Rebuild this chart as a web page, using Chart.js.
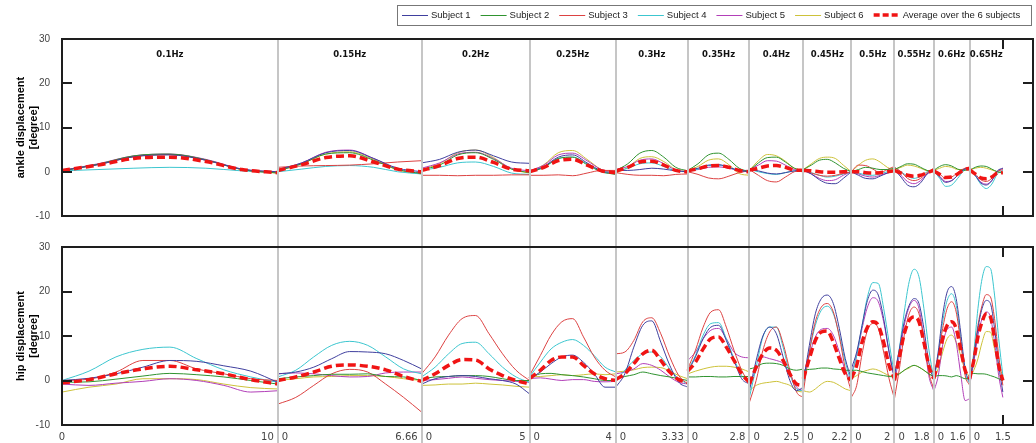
<!DOCTYPE html>
<html>
<head>
<meta charset="utf-8">
<script src="https://cdn.jsdelivr.net/npm/chart.js@4.4.1/dist/chart.umd.min.js"></script>
<style>
  html, body { margin: 0; padding: 0; background: #fff; }
  #wrap { position: relative; width: 1036px; height: 443px; overflow: hidden; }
  #ankle { position: absolute; left: 0; top: 0; }
  #hip { position: absolute; left: 0; top: 222px; }
</style>
</head>
<body>
<div id="wrap">
  <canvas id="ankle" width="1036" height="226"></canvas>
  <canvas id="hip" width="1036" height="221"></canvas>
</div>
<script>
// stimulation frequencies, one block of one period each
const freqs = [0.1, 0.15, 0.2, 0.25, 0.3, 0.35, 0.4, 0.45, 0.5, 0.55, 0.6, 0.65];
const freqNames = ["0.1Hz", "0.15Hz", "0.2Hz", "0.25Hz", "0.3Hz", "0.35Hz", "0.4Hz", "0.45Hz", "0.5Hz", "0.55Hz", "0.6Hz", "0.65Hz"];
const periodLabels = ["10", "6.66", "5", "4", "3.33", "2.8", "2.5", "2.2", "2", "1.8", "1.6", "1.5"];
const seriesNames = ["Subject 1", "Subject 2", "Subject 3", "Subject 4", "Subject 5", "Subject 6", "Average over the 6 subjects"];
const seriesColors = ["#3f3f9e", "#2f932f", "#dc4242", "#3cc6cf", "#b23fb8", "#cdc23a", "#f01414"];

// ankle displacement [deg], samples evenly spread over each period
const ankleS1 = [
  [0.3, 1.6, 3.4, 3.8, 2.6, 0.6, 0], [0.5, 2.0, 4.3, 4.8, 3.0, 0.8, 0.0], [2.0, 2.8, 4.4, 4.9, 3.6, 2.2, 1.9],
  [0, 1.2, 3.3, 3.8, 2.0, 0.2, -0.3], [0.3, 0.3, 0.5, 0.8, 0.6, 0.2, 0], [0.3, 0.8, 1.5, 1.6, 1.0, 0.3, 0],
  [0.5, 0.2, -0.3, -0.5, -0.2, 0.2, 0.3], [0.3, -0.5, -1.8, -2.6, -2.7, -1.5, 0], [0, -0.8, -1.5, -1.6, -1.0, -0.3, 0.2],
  [0.5, -1.2, -3.0, -3.4, -2.5, -0.5, 0.5], [0.3, -1.2, -2.4, -2.0, -0.8, 0.5, 0.8], [0.8, -0.8, -2.5, -3.0, -2.0, 0.2, 0.8]
];
const ankleS2 = [
  [0.2, 1.7, 3.6, 4.0, 2.7, 0.5, -0.3], [0.2, 1.8, 4.0, 4.3, 2.6, 0.5, -0.4], [0.5, 1.5, 3.8, 4.3, 2.8, 0.6, -0.2],
  [-0.2, 1.0, 3.0, 3.3, 1.6, 0, -0.6], [0.3, 1.8, 4.2, 4.8, 3.3, 1.0, 0.2], [0.3, 1.8, 3.8, 4.2, 2.8, 0.8, 0],
  [0.3, 2.0, 3.2, 3.3, 2.2, 0.8, 0.3], [0.5, 1.5, 2.6, 2.8, 2.0, 0.8, 0], [0, 0.5, 1.0, 0.8, 0.5, 0.5, 0.8],
  [0.5, 1.2, 1.8, 1.7, 1.0, 0.3, 0], [0.3, 1.2, 1.6, 1.3, 0.6, 0.3, 0.5], [0.3, 1.0, 1.3, 1.2, 0.6, 0.0, -0.3]
];
const ankleS3 = [
  [0.3, 1.6, 3.4, 3.9, 2.6, 0.5, -0.2], [1.0, 1.3, 1.4, 1.5, 1.8, 2.2, 2.5], [-0.8, -0.8, -0.9, -0.8, -0.8, -0.7, -0.7],
  [-0.8, -0.8, -0.7, -0.9, -0.3, 0.3, 0.3], [-0.2, -0.6, -0.8, -0.8, -0.9, -0.6, -0.5], [0.0, -0.6, -1.4, -1.6, -1.0, -0.2, 0.2],
  [0.5, -0.8, -2.0, -2.3, -1.2, 0.0, 0.3], [0.3, -0.3, -0.8, -1.0, -0.8, -0.4, 0], [0, 1.5, 1.4, 0.6, -0.2, 0.5, 1.2],
  [1.0, 0.0, -1.5, -2.0, -1.5, -0.2, 0.8], [0.5, -0.5, -1.5, -1.2, -0.2, 0.7, 1.0], [0.5, -0.5, -1.8, -2.2, -1.5, 0.0, 0.5]
];
const ankleS4 = [
  [0.2, 0.5, 0.8, 1.0, 0.8, 0.2, -0.2], [0.0, 0.6, 1.2, 1.4, 1.0, 0.0, -0.5], [0.3, 1.0, 2.0, 2.2, 1.2, -0.3, -0.6],
  [0, 1.0, 3.0, 3.3, 1.8, 0, -0.5], [0, 0.8, 1.8, 2.0, 1.2, 0.2, 0], [0, 0.6, 1.4, 1.5, 1.0, 0.2, 0],
  [0.5, 0.0, -0.4, -0.6, -0.2, 0.2, 0.3], [0.3, -0.2, -0.8, -1.2, -1.0, -0.5, 0], [0, -0.3, -0.7, -0.8, -0.5, 0, 0.3],
  [1.0, 0.0, -1.0, -1.5, -1.0, 0, 0.5], [0.3, -1.5, -3.3, -3.0, -1.5, 0.2, 0.8], [0.8, -0.8, -2.8, -3.8, -2.8, -0.5, 0.3]
];
const ankleS5 = [
  [0.3, 1.8, 3.6, 4.0, 2.8, 0.6, -0.2], [0.3, 2.0, 4.4, 4.9, 3.0, 0.6, -0.3], [0.8, 2.0, 4.0, 4.4, 3.0, 0.8, 0.2],
  [0.2, 1.5, 3.8, 4.2, 2.5, 0.5, 0], [0.5, 1.2, 2.6, 2.9, 1.8, 0.4, 0], [0.2, 0.5, 1.0, 1.1, 0.8, 0.3, 0.3],
  [0.5, 1.5, 2.5, 2.4, 1.5, 0.5, 0.3], [0.3, -0.5, -1.5, -2.0, -1.8, -0.8, 0], [0, -0.5, -1.0, -1.2, -0.8, -0.3, 0.2],
  [0.5, -0.8, -2.2, -2.7, -2.0, -0.5, 0.3], [0.3, -1.0, -2.2, -2.0, -0.8, 0.5, 0.9], [0.5, -0.8, -2.3, -2.8, -2.0, 0.0, 0.8]
];
const ankleS6 = [
  [0.2, 1.7, 3.5, 3.9, 2.7, 0.5, -0.3], [0.2, 1.8, 4.0, 4.5, 2.8, 0.4, -0.5], [0.6, 1.8, 4.3, 4.9, 3.2, 0.6, -0.3],
  [0, 1.6, 4.3, 4.8, 2.8, 0.5, -0.2], [-0.3, 1.0, 3.0, 3.4, 2.3, 0.5, 0], [0.2, 1.2, 2.6, 2.9, 1.6, -0.4, -0.8],
  [0.3, 2.5, 3.9, 3.6, 2.4, 0.8, 0.3], [0.5, 1.8, 3.0, 3.3, 3.0, 1.5, 0], [0, 1.5, 2.6, 2.9, 2.2, 1.0, 0.3],
  [0.5, 1.0, 1.5, 1.3, 0.8, 0.2, 0], [0.3, 0.8, 1.2, 1.0, 0.5, 0.5, 0.8], [0.5, 0.8, 1.0, 0.8, 0.4, 0.0, -0.2]
];
const ankleAvg = [
  [0.3, 1.5, 3.0, 3.3, 2.3, 0.5, -0.2], [0.3, 1.6, 3.2, 3.6, 2.2, 0.6, 0.0], [0.3, 1.4, 3.0, 3.3, 2.1, 0.6, 0.2],
  [0, 1.0, 2.5, 2.8, 1.5, 0.2, -0.2], [0.2, 1.0, 2.2, 2.4, 1.5, 0.3, 0], [0.2, 0.7, 1.3, 1.4, 1.0, 0.3, 0],
  [0.4, 0.8, 1.3, 1.4, 1.0, 0.4, 0.3], [0.3, 0.2, 0.0, -0.1, -0.1, 0, 0], [0, 0.0, -0.2, -0.3, -0.2, 0, 0.2],
  [0.3, -0.3, -0.8, -1.0, -0.8, -0.2, 0.3], [0.2, -0.6, -1.3, -1.2, -0.5, 0.4, 0.8], [0.5, -0.5, -1.4, -1.6, -1.2, -0.3, -0.2]
];

// hip displacement [deg]
const hipS1 = [
  [0, 0.5, 1.5, 3.0, 4.5, 4.3, 3.3, 2.1, -0.4], [1.5, 1.9, 3.0, 4.9, 6.5, 6.4, 6.0, 4.5, 2.6],
  [-0.8, 0.4, 0.9, 1.1, 0.9, 0.4, 0, -0.8, -3.0], [0.4, 1.9, 3.8, 5.3, 5.7, 4.1, 1.5, -1.5, -1.5],
  [-1.5, 1.5, 7.5, 12.4, 13.4, 8.6, 3.4, -0.4, -1.5], [1.9, 5.3, 9.4, 12.0, 12.4, 9.0, 4.5, 0.4, -0.8],
  [-2.3, 4.5, 10.0, 12.0, 10.5, 5.3, 0, -2.3, -1.5], [-0.4, 7.9, 15.0, 18.4, 19.2, 17.3, 11.7, 4.9, 0.4],
  [2.6, 6.4, 12.4, 18.0, 20.3, 19.2, 13.9, 6.4, 0.4], [1.1, 7.1, 13.2, 16.9, 18.4, 17.3, 11.7, 4.1, 0],
  [0.4, 6.4, 14.7, 19.9, 21.1, 18.4, 10.9, 2.6, -0.4], [-0.4, 4.9, 11.7, 16.2, 18.0, 17.3, 11.7, 3.4, -2.6]
];
const hipS2 = [
  [-0.4, -0.3, 0.3, 1.0, 1.6, 1.3, 0.8, 0.0, -0.8], [0.4, 0.8, 1.1, 1.4, 1.4, 1.5, 0.9, 0.8, 0],
  [0.4, 0.8, 0.9, 1.1, 1.1, 0.9, 0.4, 0, 0], [0.4, 1.5, 1.6, 1.3, 1.1, 0.8, 0.4, 0, 0],
  [0.4, 0.9, 1.3, 1.9, 1.5, 1.1, 0.8, 0.4, 0], [0.8, 0.8, 0.9, 0.9, 0.8, 0.8, 0.9, 0.9, 0.9],
  [2.6, 3.0, 3.8, 3.9, 3.8, 3.4, 2.6, 2.3, 2.6], [2.3, 2.5, 2.6, 2.8, 2.8, 2.6, 2.5, 2.3, 2.3],
  [2.3, 2.3, 2.0, 1.7, 1.5, 1.3, 1.1, 0.9, 0.8], [1.1, 1.5, 2.3, 3.0, 3.4, 3.0, 2.3, 1.5, 0.8],
  [0.8, 1.1, 1.1, 1.0, 0.8, 1.1, 0.8, 0.4, 0.4], [1.5, 1.6, 1.5, 1.5, 1.4, 1.1, 0.8, 0.4, 0]
];
const hipS3 = [
  [0, 0.3, 1.9, 4.5, 4.5, 2.6, 1.5, 0.4, 0], [-5.3, -3.8, -1.1, 1.5, 2.5, 1.9, -0.8, -3.8, -7.1],
  [1.5, 5.3, 10.2, 13.9, 14.6, 10.5, 6.0, 2.3, 0], [1.1, 5.6, 10.2, 13.2, 13.9, 9.8, 5.3, 2.3, 0.8],
  [6.0, 6.4, 9.0, 13.2, 14.1, 10.5, 5.3, 1.1, -0.8], [2.6, 6.8, 12.0, 15.4, 15.9, 12.0, 6.8, 2.3, -0.8],
  [-4.9, 0, 6.8, 10.9, 12.0, 8.3, 2.3, -2.6, -3.8], [-2.6, 6.4, 13.2, 16.5, 17.3, 15.4, 9.8, 2.6, -2.6],
  [-3.8, -1.1, 6.0, 11.3, 12.8, 11.7, 6.4, 0.4, -4.1], [-4.1, 2.6, 10.2, 15.0, 16.5, 15.0, 9.4, 1.9, -1.9],
  [0.4, 5.6, 11.7, 16.2, 17.7, 15.4, 8.6, 1.1, -1.1], [-0.4, 5.6, 12.4, 16.9, 19.3, 18.8, 13.9, 5.6, -1.1]
];
const hipS4 = [
  [0, 2.1, 5.3, 7.0, 7.5, 4.9, 2.4, 0.8, -0.4], [0.8, 2.3, 5.3, 7.9, 8.8, 7.9, 5.3, 2.6, 1.5],
  [0.8, 3.0, 6.0, 8.3, 8.6, 6.0, 3.0, 0.8, -0.4], [0.8, 4.1, 7.1, 8.6, 9.2, 7.9, 5.6, 3.0, 1.9],
  [0, 2.3, 4.5, 6.0, 6.4, 5.3, 2.6, 0.4, -0.8], [2.3, 5.6, 10.2, 12.8, 13.0, 9.4, 4.9, 1.1, -0.4],
  [-3.8, 3.0, 9.8, 12.0, 12.0, 7.5, 1.5, -1.9, -2.3], [-1.1, 6.4, 12.4, 15.8, 16.7, 15.0, 10.2, 4.1, -0.4],
  [1.1, 5.6, 12.4, 18.8, 22.0, 21.8, 16.2, 8.6, 1.1], [0.4, 7.1, 15.4, 22.2, 25.0, 23.3, 16.2, 7.1, 0.4],
  [-0.4, 5.6, 13.2, 18.0, 19.5, 16.9, 9.4, 1.9, -0.8], [-0.4, 6.4, 16.2, 22.9, 25.6, 25.2, 19.2, 9.4, 1.1]
];
const hipS5 = [
  [-0.8, -1.1, -0.6, -0.2, 0.4, 0, -1.1, -2.6, -2.3], [1.5, 1.7, 1.5, 1.1, 0.8, 0.9, 1.7, 1.9, 1.9],
  [0, 0.2, 0.5, 0.8, 0.5, 0.2, 0, -0.2, -0.4], [0.4, 0.6, 0.3, 0.0, 0.2, 0.2, -0.2, -0.3, -0.2],
  [1.5, 1.9, 2.6, 3.8, 3.4, 2.3, 0.8, -0.4, -0.8], [4.5, 6.4, 9.4, 11.3, 11.7, 9.4, 6.4, 5.3, 5.1],
  [-0.8, 2.3, 5.3, 4.9, 4.5, 3.8, 1.5, -1.5, -2.3], [1.1, 5.6, 9.8, 11.5, 11.7, 10.2, 6.4, 2.3, -0.4],
  [1.5, 5.6, 11.7, 16.5, 18.6, 17.7, 13.2, 6.4, 0.4], [-0.4, 5.6, 12.4, 16.5, 18.0, 16.2, 9.4, 1.1, -2.3],
  [-2.5, 1.0, 8.0, 11.5, 12.0, 8.5, 1.5, -4.5, -4.1], [-1.1, 4.1, 10.2, 13.9, 15.4, 14.3, 8.6, 1.1, -3.8]
];
const hipS6 = [
  [-2.6, -1.5, -0.8, 0.4, 0.4, 0.2, -0.8, -1.6, -1.9], [0, 0.4, 0.8, 0.9, 1.1, 1.1, 0.9, 0.4, 0],
  [-1.1, -1.0, -0.8, -0.8, -0.6, -0.8, -1.0, -1.3, -1.5], [0.8, 0.9, 1.1, 1.3, 1.1, 1.3, 1.5, 1.3, 1.5],
  [1.9, 2.1, 2.4, 2.9, 3.0, 2.9, 2.1, 1.1, 0.4], [1.5, 2.1, 2.6, 3.0, 3.2, 3.2, 3.0, 2.6, 1.9],
  [-2.3, -1.1, -0.6, -0.4, -0.2, -0.6, -1.1, -2.3, -2.6], [-2.3, -2.6, -1.9, -0.8, -0.2, -0.4, -1.1, -1.9, -2.3],
  [0.4, 1.1, 1.9, 2.3, 2.6, 2.3, 1.7, 1.1, 0.8], [0.8, 1.5, 2.3, 2.8, 3.4, 3.0, 2.3, 1.5, 1.1],
  [0.8, 2.6, 6.4, 9.4, 10.2, 8.6, 5.6, 2.3, 0.8], [0.8, 2.3, 4.9, 8.6, 11.0, 10.9, 7.1, 3.4, 1.1]
];
const hipAvg = [
  [-0.5, 0.2, 1.5, 2.6, 3.2, 2.4, 1.5, 0.2, -0.8], [0, 0.8, 1.9, 3.2, 3.5, 3.2, 2.4, 0.9, -0.2],
  [0, 1.5, 3.4, 4.7, 4.6, 2.6, 1.1, 0, -0.8], [0.4, 2.3, 4.5, 5.3, 5.3, 3.4, 1.5, 0.4, 0],
  [0.2, 1.5, 3.8, 6.0, 6.8, 4.5, 1.9, 0.2, -0.4], [2.1, 4.1, 7.1, 9.4, 9.8, 7.5, 4.5, 1.5, -0.4],
  [-0.8, 3.0, 6.0, 7.3, 6.8, 4.5, 1.5, -0.8, -1.1], [0.4, 4.9, 9.0, 10.9, 11.1, 8.6, 4.9, 1.5, 0],
  [0.4, 3.4, 8.6, 12.0, 13.2, 12.4, 8.6, 3.4, 0.4], [0, 5.3, 10.5, 13.5, 14.3, 13.2, 8.6, 3.4, 0.4],
  [0.4, 4.1, 9.4, 12.4, 13.2, 11.7, 7.1, 2.3, 0.4], [0.4, 4.5, 9.8, 13.2, 15.0, 14.3, 9.4, 3.4, 0]
];

// block edges on the time axis [s]
const bounds = [0];
freqs.forEach(f => bounds.push(bounds[bounds.length - 1] + 1 / f));

// spread each block's samples over its period, with a break between blocks
function toPoints(blocks) {
  const pts = [];
  blocks.forEach((vals, b) => {
    const t0 = bounds[b], T = bounds[b + 1] - t0;
    vals.forEach((v, i) => pts.push({ x: t0 + T * i / (vals.length - 1), y: v }));
    if (b < blocks.length - 1) pts.push({ x: bounds[b + 1], y: null });
  });
  return pts;
}

function makeDatasets(list) {
  return list.map((blocks, i) => {
    const avg = i === list.length - 1;
    return {
      label: seriesNames[i],
      data: toPoints(blocks),
      borderColor: seriesColors[i],
      backgroundColor: seriesColors[i],
      borderWidth: avg ? 3.5 : 1,
      borderDash: avg ? [8, 4] : [],
      order: avg ? 0 : 1
    };
  });
}

// frame, inner ticks, block separators and the texts around the panels
const panelDeco = {
  id: "panelDeco",
  afterDatasetsDraw(chart, args, opts) {
    const { ctx, chartArea: a, scales: { x, y } } = chart;
    ctx.save();

    ctx.strokeStyle = "#c6c6c6";
    ctx.lineWidth = 2;
    const sepTop = opts.sepFromTop ? a.top : 0;
    bounds.slice(1, -1).forEach(t => {
      const px = Math.round(x.getPixelForValue(t));
      ctx.beginPath();
      ctx.moveTo(px, sepTop);
      ctx.lineTo(px, chart.height);
      ctx.stroke();
    });

    ctx.strokeStyle = "#1e1e1e";
    ctx.lineWidth = 2;
    ctx.strokeRect(a.left, a.top, a.right - a.left, a.bottom - a.top);
    ctx.beginPath();
    y.ticks.forEach(tk => {
      if (tk.value <= y.min || tk.value >= y.max) return;
      const py = Math.round(y.getPixelForValue(tk.value));
      ctx.moveTo(a.left, py); ctx.lineTo(a.left + 10, py);
      ctx.moveTo(a.right - 10, py); ctx.lineTo(a.right, py);
    });
    const endX = Math.round(x.getPixelForValue(bounds[bounds.length - 1]));
    ctx.moveTo(endX, a.top); ctx.lineTo(endX, a.top + 10);
    ctx.moveTo(endX, a.bottom - 10); ctx.lineTo(endX, a.bottom);
    ctx.stroke();

    if (opts.freqNames) {
      ctx.fillStyle = "#111";
      ctx.font = "bold 8.5px 'DejaVu Sans'";
      ctx.textAlign = "center";
      ctx.textBaseline = "middle";
      freqNames.forEach((name, b) => {
        const cx = (x.getPixelForValue(bounds[b]) + x.getPixelForValue(bounds[b + 1])) / 2;
        ctx.fillText(name, cx, a.top + 16);
      });
    }

    if (opts.timeLabels) {
      ctx.fillStyle = "#444";
      ctx.font = "10px 'DejaVu Sans'";
      ctx.textBaseline = "middle";
      const ty = a.bottom + 12;
      periodLabels.forEach((lab, b) => {
        const p0 = x.getPixelForValue(bounds[b]);
        const p1 = x.getPixelForValue(bounds[b + 1]);
        ctx.textAlign = b === 0 ? "center" : "left";
        ctx.fillText("0", b === 0 ? p0 : p0 + 4, ty);
        const last = b === periodLabels.length - 1;
        ctx.textAlign = last ? "center" : "right";
        ctx.fillText(lab, last ? p1 : p1 - 4, ty);
      });
    }

    if (opts.legend) {
      const boxL = 397, boxT = 5, boxR = 1031, boxB = 25;
      ctx.strokeStyle = "#777";
      ctx.lineWidth = 1;
      ctx.strokeRect(boxL + 0.5, boxT + 0.5, boxR - boxL, boxB - boxT);
      ctx.font = "9.5px 'Liberation Sans'";
      ctx.textAlign = "left";
      ctx.textBaseline = "middle";
      const my = 15.5;
      let lx = boxL + 5;
      chart.data.datasets.forEach(ds => {
        const dashed = ds.borderDash.length > 0;
        ctx.strokeStyle = ds.borderColor;
        ctx.lineWidth = dashed ? 3.5 : 1;
        ctx.setLineDash(dashed ? [6, 3] : []);
        ctx.beginPath();
        ctx.moveTo(lx, dashed ? 15 : my); ctx.lineTo(lx + 26, dashed ? 15 : my);
        ctx.stroke();
        ctx.setLineDash([]);
        ctx.fillStyle = "#222";
        ctx.fillText(ds.label, lx + 29, 15);
        lx += 29 + ctx.measureText(ds.label).width + 10;
      });
    }
    ctx.restore();
  }
};

function panelOptions(title, padding, xHeight, deco) {
  return {
    responsive: false,
    animation: false,
    layout: { padding },
    elements: {
      point: { radius: 0 },
      line: { cubicInterpolationMode: "monotone" }
    },
    plugins: {
      legend: { display: false },
      tooltip: { enabled: false },
      panelDeco: deco
    },
    scales: {
      x: {
        type: "linear", min: 0, max: 45,
        ticks: { display: false },
        grid: { display: false },
        border: { display: false },
        afterFit: s => { s.height = xHeight; }
      },
      y: {
        min: -10, max: 30,
        ticks: { stepSize: 10, padding: 4, color: "#444", font: { family: "'Liberation Sans'", size: 10 } },
        grid: { display: false },
        border: { display: false },
        title: {
          display: true, text: title, color: "#000",
          font: { family: "'Liberation Sans'", size: 11, weight: "bold" },
          padding: { top: 14, bottom: 0 }
        },
        afterFit: s => { s.width = 62; }
      }
    }
  };
}

new Chart(document.getElementById("ankle"), {
  type: "line",
  data: { datasets: makeDatasets([ankleS1, ankleS2, ankleS3, ankleS4, ankleS5, ankleS6, ankleAvg]) },
  options: panelOptions(["ankle displacement", "[degree]"], { top: 39, right: 3, bottom: 8, left: 0 }, 0,
    { sepFromTop: true, freqNames: true, legend: true, timeLabels: false }),
  plugins: [panelDeco]
});

new Chart(document.getElementById("hip"), {
  type: "line",
  data: { datasets: makeDatasets([hipS1, hipS2, hipS3, hipS4, hipS5, hipS6, hipAvg]) },
  options: panelOptions(["hip displacement", "[degree]"], { top: 25, right: 3, bottom: 0, left: 0 }, 18,
    { sepFromTop: false, freqNames: false, legend: false, timeLabels: true }),
  plugins: [panelDeco]
});
</script>
</body>
</html>
